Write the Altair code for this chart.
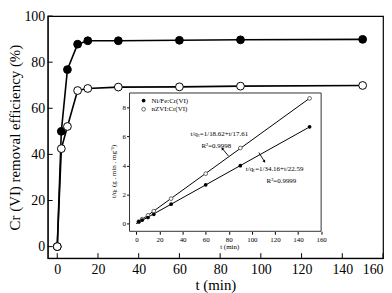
import altair as alt
import pandas as pd

# ---------------- data ----------------
t_main = [0, 2, 5, 10, 15, 30, 60, 90, 150]
nife_main = [0, 50.0, 76.8, 87.8, 89.3, 89.3, 89.5, 89.7, 89.9]
nzvi_main = [0, 42.5, 52.1, 67.7, 68.6, 69.2, 69.3, 69.6, 69.9]

t_inset = [2, 5, 10, 15, 30, 60, 90, 150]
nife_tq = [0.13, 0.24, 0.42, 0.64, 1.34, 2.67, 3.99, 6.67]
nzvi_tq = [0.13, 0.31, 0.57, 0.86, 1.72, 3.44, 5.21, 8.63]

series_names = ["Ni/Fe:Cr(VI)", "nZVI:Cr(VI)"]
main_x_ticks = [0, 20, 40, 60, 80, 100, 120, 140, 160]
main_y_ticks = [0, 20, 40, 60, 80, 100]
inset_x_ticks = [0, 20, 40, 60, 80, 100, 120, 140, 160]
inset_y_ticks = [0, 2, 4, 6, 8]

eq_texts = ["t/q\u209c=1/18.62+t/17.61", "R\u00b2=0.9998",
            "t/q\u209c=1/34.16+t/22.59", "R\u00b2=0.9999"]
eq_t = [71.8, 69.2, 119.7, 125.6]
eq_tq = [6.16, 5.36, 3.77, 2.91]

arrow_tail_t = [79.7, 106.0]
arrow_tail_tq = [4.66, 4.90]
arrow_head_t = [74.4, 110.9]
arrow_head_tq = [5.17, 4.28]
arrow_ang = [325, 148]

FONT = "Liberation Serif"
W, H = 338, 244

# inset frame (in inset data units) and inset scale domains
frame_t = [-6.0, 160.0]
frame_tq = [-0.53, 9.0]
inset_x_dom = [-76.9, 213.6]
inset_y_dom = [-2.38, 14.30]
frac_left = 0.2441
frac_bottom = 1 - 0.8889

# ---------------- main chart ----------------
main_df = pd.DataFrame({
    "t": t_main * 2,
    "eff": nife_main + nzvi_main,
    "series": [series_names[0]] * len(t_main) + [series_names[1]] * len(t_main),
})

mx = alt.X("t:Q", scale=alt.Scale(domain=[-4.7, 160], nice=False, zero=False),
           axis=alt.Axis(values=main_x_ticks, title="t (min)", ticks=False, labelPadding=4,
                         labelFont=FONT, labelFontSize=14, titleFont=FONT, titleFontSize=15,
                         titleFontWeight="normal", titlePadding=2, grid=False,
                         domainColor="black", labelColor="black", titleColor="black"))
my = alt.Y("eff:Q", scale=alt.Scale(domain=[-5, 100], nice=False, zero=False),
           axis=alt.Axis(values=main_y_ticks, title="Cr (VI) removal efficiency (%)", ticks=False,
                         labelPadding=3, labelFont=FONT, labelFontSize=14, titleFont=FONT,
                         titleFontSize=15, titleFontWeight="normal", titlePadding=1, grid=False,
                         domainColor="black", labelColor="black", titleColor="black"))

main_lines = alt.Chart(main_df).mark_line(color="black", strokeWidth=1.6).encode(
    x=mx, y=my, detail="series:N")
main_filled = alt.Chart(main_df).transform_filter(
    alt.datum.series == series_names[0]).mark_circle(
    size=62, color="black", stroke="black", strokeWidth=1, opacity=1).encode(x=mx, y=my)
main_open = alt.Chart(main_df).transform_filter(
    alt.datum.series == series_names[1]).mark_circle(
    size=62, fill="white", stroke="black", strokeWidth=1, opacity=1).encode(x=mx, y=my)

xt_df = pd.DataFrame({"t": main_x_ticks})
yt_df = pd.DataFrame({"eff": main_y_ticks})
x_ticks = alt.Chart(xt_df).mark_rule(color="black", strokeWidth=1).encode(
    x=mx, y=alt.value(H), y2=alt.value(H - 5))
y_ticks = alt.Chart(yt_df).mark_rule(color="black", strokeWidth=1).encode(
    y=my, x=alt.value(0), x2=alt.value(5))

main = alt.layer(main_lines, x_ticks, y_ticks, main_filled, main_open)

# ---------------- inset chart ----------------
inset_df = pd.DataFrame({
    "t": t_inset * 2,
    "tq": nife_tq + nzvi_tq,
    "series": [series_names[0]] * len(t_inset) + [series_names[1]] * len(t_inset),
})

ix = alt.X("t:Q", scale=alt.Scale(domain=inset_x_dom, nice=False, zero=False),
           axis=alt.Axis(values=inset_x_ticks, title=None, orient="bottom", domain=False,
                         tickSize=3, tickColor="black", labelFont=FONT, labelFontSize=7,
                         labelPadding=1, labelColor="black", grid=False,
                         offset=-frac_bottom * H))
iy = alt.Y("tq:Q", scale=alt.Scale(domain=inset_y_dom, nice=False, zero=False),
           axis=alt.Axis(values=inset_y_ticks, title=None, orient="left", domain=False,
                         tickSize=3, tickColor="black", labelFont=FONT, labelFontSize=7,
                         labelPadding=1, labelColor="black", grid=False,
                         offset=-frac_left * W))

# white background of the inset
bg_df = pd.DataFrame({"t": [frame_t[0]], "t_end": [frame_t[1]],
                      "tq": [frame_tq[0]], "tq_end": [frame_tq[1]]})
bg = alt.Chart(bg_df).mark_rect(fill="white", strokeWidth=0).encode(
    x=ix, x2="t_end:Q", y=iy, y2="tq_end:Q")
# frame edges: bottom, top, left, right
edges_df = pd.DataFrame({
    "t": [frame_t[0], frame_t[0], frame_t[0], frame_t[1]],
    "t_end": [frame_t[1], frame_t[1], frame_t[0], frame_t[1]],
    "tq": [frame_tq[0], frame_tq[1], frame_tq[0], frame_tq[0]],
    "tq_end": [frame_tq[0], frame_tq[1], frame_tq[1], frame_tq[1]],
})
edges = alt.Chart(edges_df).mark_rule(color="#333333", strokeWidth=1).encode(
    x=ix, x2="t_end:Q", y=iy, y2="tq_end:Q")

reg = alt.Chart(inset_df).transform_regression(
    "t", "tq", groupby=["series"], extent=[0, 150]).mark_line(
    color="black", strokeWidth=1).encode(x=ix, y=iy, detail="series:N")

in_filled = alt.Chart(inset_df).transform_filter(
    alt.datum.series == series_names[0]).mark_circle(
    size=14, color="black", opacity=1).encode(x=ix, y=iy)
in_open = alt.Chart(inset_df).transform_filter(
    alt.datum.series == series_names[1]).mark_circle(
    size=14, fill="white", stroke="#555555", strokeWidth=0.9, opacity=1).encode(x=ix, y=iy)

legm_df = pd.DataFrame({"t": [6.2, 6.2], "tq": [8.48, 7.88], "series": series_names})
legt_df = pd.DataFrame({"t": [13.0, 13.0], "tq": [8.48, 7.88], "label": series_names})
leg_f = alt.Chart(legm_df).transform_filter(alt.datum.series == series_names[0]).mark_circle(
    size=14, color="black", opacity=1).encode(x=ix, y=iy)
leg_o = alt.Chart(legm_df).transform_filter(alt.datum.series == series_names[1]).mark_circle(
    size=14, fill="white", stroke="#555555", strokeWidth=0.9, opacity=1).encode(x=ix, y=iy)
leg_txt = alt.Chart(legt_df).mark_text(
    align="left", baseline="middle", font=FONT, fontSize=7, color="black").encode(
    x=ix, y=iy, text="label:N")

eq_df = pd.DataFrame({"t": eq_t, "tq": eq_tq, "label": eq_texts})
eq = alt.Chart(eq_df).mark_text(
    align="center", baseline="middle", font=FONT, fontSize=7, color="black").encode(
    x=ix, y=iy, text="label:N")

arr_df = pd.DataFrame({"t": arrow_tail_t, "tq": arrow_tail_tq,
                       "t_end": arrow_head_t, "tq_end": arrow_head_tq})
arr_line = alt.Chart(arr_df).mark_rule(color="black", strokeWidth=0.9).encode(
    x=ix, y=iy, x2="t_end:Q", y2="tq_end:Q")
head_df = pd.DataFrame({"t": arrow_head_t, "tq": arrow_head_tq, "ang": arrow_ang})
arr_head = alt.Chart(head_df).mark_point(
    shape="triangle-up", filled=True, color="black", size=10, opacity=1).encode(
    x=ix, y=iy, angle=alt.Angle("ang:Q", scale=None))

ttl_df = pd.DataFrame({"t": [80.8, -19.7], "tq": [-1.6, 3.6],
                       "label": ["t (min)", "t/q\u209c (g . min . mg\u207b\u00b9)"],
                       "ang": [0, 270]})
ttl_x = alt.Chart(ttl_df).transform_filter(alt.datum.ang == 0).mark_text(
    align="center", baseline="middle", font=FONT, fontSize=7, color="black").encode(
    x=ix, y=iy, text="label:N")
ttl_y = alt.Chart(ttl_df).transform_filter(alt.datum.ang == 270).mark_text(
    align="center", baseline="middle", font=FONT, fontSize=7, color="black", angle=270).encode(
    x=ix, y=iy, text="label:N")

inset = alt.layer(bg, edges, reg, in_open, in_filled, leg_f, leg_o, leg_txt, eq,
                  arr_line, arr_head, ttl_x, ttl_y)

chart = alt.layer(main, inset).resolve_scale(x="independent", y="independent").properties(
    width=W, height=H, padding={"left": 0, "top": 0, "right": 0, "bottom": 0},
    background="white"
).configure_view(stroke="black", strokeWidth=1.2)

chart.save("out.html", embed_options={"renderer": "svg", "actions": False})
